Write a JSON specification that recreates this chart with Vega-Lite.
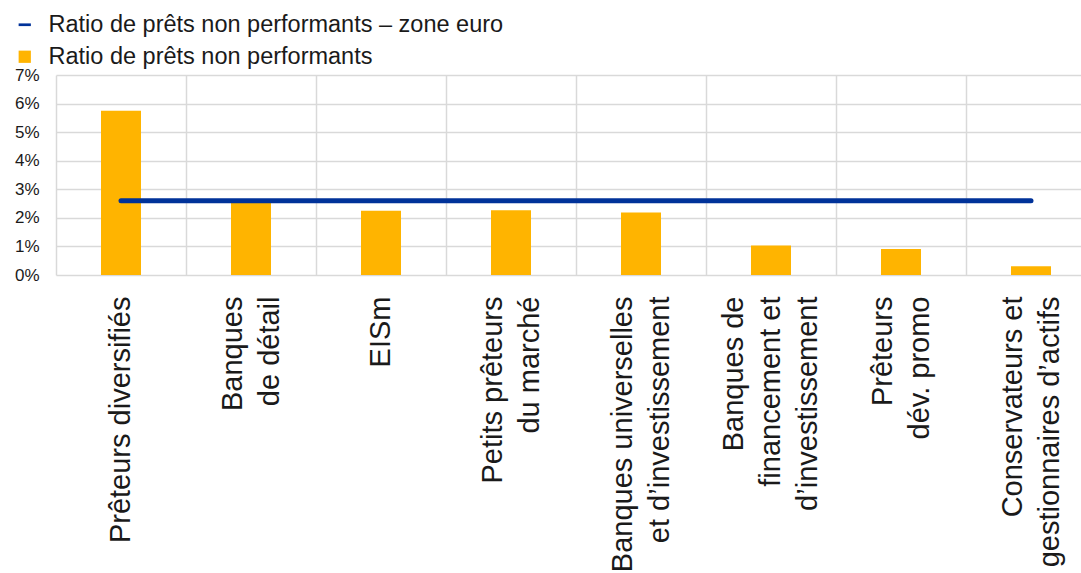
{
  "$schema": "https://vega.github.io/schema/vega-lite/v6.json",
  "width": 1040,
  "height": 200,
  "autosize": {"type": "none"},
  "padding": {"left": 56, "top": 75, "right": 0, "bottom": 298},
  "background": "white",
  "config": {"font": "Liberation Sans", "view": {"stroke": null}},
  "data": {"values": [
    {"cat": "Prêteurs diversifiés", "npl": 0.0575, "ea": 0.026},
    {"cat": "Banques|de détail", "npl": 0.0255, "ea": 0.026},
    {"cat": "EISm", "npl": 0.0225, "ea": 0.026},
    {"cat": "Petits prêteurs|du marché", "npl": 0.0227, "ea": 0.026},
    {"cat": "Banques universelles|et d’investissement", "npl": 0.0219, "ea": 0.026},
    {"cat": "Banques de|financement et|d’investissement", "npl": 0.0103, "ea": 0.026},
    {"cat": "Prêteurs|dév. promo", "npl": 0.0091, "ea": 0.026},
    {"cat": "Conservateurs et|gestionnaires d’actifs", "npl": 0.0031, "ea": 0.026}
  ]},
  "layer": [
    {
      "mark": {"type": "bar", "width": 40},
      "encoding": {
        "x": {"field": "cat", "type": "nominal", "sort": null,
          "scale": {"paddingInner": 0, "paddingOuter": 0},
          "axis": {"title": null, "grid": false, "domain": false, "ticks": false,
            "labelAngle": -90, "labelAlign": "right", "labelBaseline": "middle",
            "labelFontSize": 29, "labelLineHeight": 37, "labelColor": "#1a1a1a",
            "labelPadding": 21, "labelLimit": 500,
            "labelExpr": "split(datum.value, '|')",
            "labelOffset": {"condition": [
              {"test": "datum.value === 'Banques de|financement et|d’investissement'", "value": -37},
              {"test": "indexof(datum.value, '|') >= 0", "value": -18.5}
            ], "value": 0}}},
        "y": {"field": "npl", "type": "quantitative",
          "scale": {"domain": [0, 0.07], "nice": false},
          "axis": {"title": null, "values": [0, 0.01, 0.02, 0.03, 0.04, 0.05, 0.06, 0.07],
            "format": ".0%", "grid": true, "gridColor": "#d9d9d9", "gridWidth": 1.5,
            "domain": false, "ticks": false, "labelFontSize": 17, "labelPadding": 17,
            "labelOverlap": false, "labelColor": "#1a1a1a"}},
        "color": {"datum": "Ratio de prêts non performants", "type": "nominal",
          "scale": {"domain": ["Ratio de prêts non performants – zone euro", "Ratio de prêts non performants"],
            "range": ["#003299", "#FFB400"]},
          "legend": {"orient": "none", "legendX": -43, "legendY": -62, "title": null,
            "labelFontSize": 23.5, "labelColor": "#1a1a1a", "labelLimit": 600,
            "symbolSize": 150, "rowPadding": 7, "labelOffset": 12, "padding": 0,
            "symbolStrokeWidth": 0,
            "encode": {"symbols": {"update": {
              "shape": {"signal": "datum.value === 'Ratio de prêts non performants – zone euro' ? 'M-1,-0.22H1V0.22H-1Z' : 'square'"},
              "fill": {"scale": "color", "field": "value"},
              "opacity": {"value": 1}}}}}}
      }
    },
    {
      "mark": {"type": "line", "strokeWidth": 5, "strokeCap": "round"},
      "encoding": {
        "x": {"field": "cat", "type": "nominal", "sort": null,
          "axis": {"orient": "top", "title": null, "bandPosition": 0, "grid": true,
            "gridColor": "#d9d9d9", "gridWidth": 1.5, "labels": false, "ticks": false,
            "domain": false}},
        "y": {"field": "ea", "type": "quantitative",
          "scale": {"domain": [0, 0.07], "nice": false},
          "axis": {"title": null, "values": [0, 0.01, 0.02, 0.03, 0.04, 0.05, 0.06, 0.07],
            "format": ".0%", "grid": true, "gridColor": "#d9d9d9", "gridWidth": 1.5,
            "domain": false, "ticks": false, "labelFontSize": 17, "labelPadding": 17,
            "labelOverlap": false, "labelColor": "#1a1a1a"}},
        "color": {"datum": "Ratio de prêts non performants – zone euro", "type": "nominal"}
      }
    }
  ],
  "resolve": {"axis": {"x": "independent"}}
}
